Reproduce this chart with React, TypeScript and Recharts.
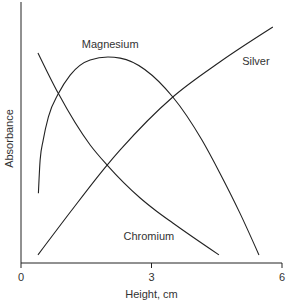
import { LineChart, Line, XAxis, YAxis, ReferenceDot, Label } from "recharts";

// Height (cm) and absorbance readings per element
const silverHeight = [0.39, 1.17, 1.98, 2.28, 3.49, 4.57, 5.79];
const silverAbs = [0.31, 2.03, 3.75, 4.33, 6.36, 7.7, 9.04];

const magnesiumHeight = [0.4, 0.44, 0.51, 0.63, 0.86, 1.13, 1.59, 2.0, 2.28, 3.49, 4.16, 4.57, 5.03, 5.47];
const magnesiumAbs = [2.67, 3.95, 4.71, 5.6, 6.49, 7.2, 7.78, 7.89, 7.85, 6.36, 4.71, 3.45, 1.92, 0.31];

const chromiumHeight = [0.39, 0.86, 1.59, 1.98, 2.74, 3.08, 3.49, 4.55];
const chromiumAbs = [8.05, 6.49, 4.52, 3.75, 2.49, 2.03, 1.53, 0.31];

const xTicks = [0, 3, 6];

const zip = (xs: number[], ys: number[]) => xs.map((x, i) => ({ x, y: ys[i] }));

const silver = zip(silverHeight, silverAbs);
const magnesium = zip(magnesiumHeight, magnesiumAbs);
const chromium = zip(chromiumHeight, chromiumAbs);

const FONT = "'Liberation Sans', Arial, sans-serif";
const INK = "#222";
const TEXT = "#333";

const curveLabel = (text: string) => (props: any) => {
  const { viewBox } = props;
  const cx = viewBox.x + (viewBox.width || 0) / 2;
  const cy = viewBox.y + (viewBox.height || 0) / 2;
  return (
    <text x={cx} y={cy} dy={4} textAnchor="middle" fontSize={11} fontFamily={FONT} fill={TEXT}>
      {text}
    </text>
  );
};

export default function App() {
  return (
    <div style={{ position: "absolute", left: 0, top: 0 }}>
      <LineChart
        width={287}
        height={303}
        margin={{ top: 2, right: 5, left: 0, bottom: 0 }}
      >
        <XAxis
          type="number"
          dataKey="x"
          domain={[0, 6]}
          ticks={xTicks}
          allowDataOverflow
          stroke={INK}
          tickSize={5}
          tick={{ fontSize: 11, fill: TEXT, fontFamily: FONT, dy: 3 }}
          height={40}
        >
          <Label
            content={(props: any) => {
              const vb = props.viewBox;
              return (
                <text x={vb.x + vb.width / 2} y={294} dy={4} textAnchor="middle" fontSize={11} fontFamily={FONT} fill={TEXT}>
                  Height, cm
                </text>
              );
            }}
          />
        </XAxis>
        <YAxis
          type="number"
          domain={[0, 10]}
          width={21}
          tick={false}
          tickLine={false}
          stroke={INK}
        >
          <Label
            content={(props: any) => {
              const vb = props.viewBox;
              const cy = vb.y + vb.height / 2 + 6;
              return (
                <text
                  x={9}
                  y={cy}
                  dy={4}
                  transform={`rotate(-90 9 ${cy})`}
                  textAnchor="middle"
                  fontSize={11}
                  fontFamily={FONT}
                  fill={TEXT}
                >
                  Absorbance
                </text>
              );
            }}
          />
        </YAxis>
        <Line data={silver} dataKey="y" type="monotone" stroke={INK} strokeWidth={1.1} dot={false} isAnimationActive={false} />
        <Line data={magnesium} dataKey="y" type="monotone" stroke={INK} strokeWidth={1.1} dot={false} isAnimationActive={false} />
        <Line data={chromium} dataKey="y" type="monotone" stroke={INK} strokeWidth={1.1} dot={false} isAnimationActive={false} />
        <ReferenceDot x={2.05} y={8.39} r={0} stroke="none" label={curveLabel("Magnesium")} />
        <ReferenceDot x={5.4} y={7.74} r={0} stroke="none" label={curveLabel("Silver")} />
        <ReferenceDot x={2.94} y={1.03} r={0} stroke="none" label={curveLabel("Chromium")} />
      </LineChart>
    </div>
  );
}
